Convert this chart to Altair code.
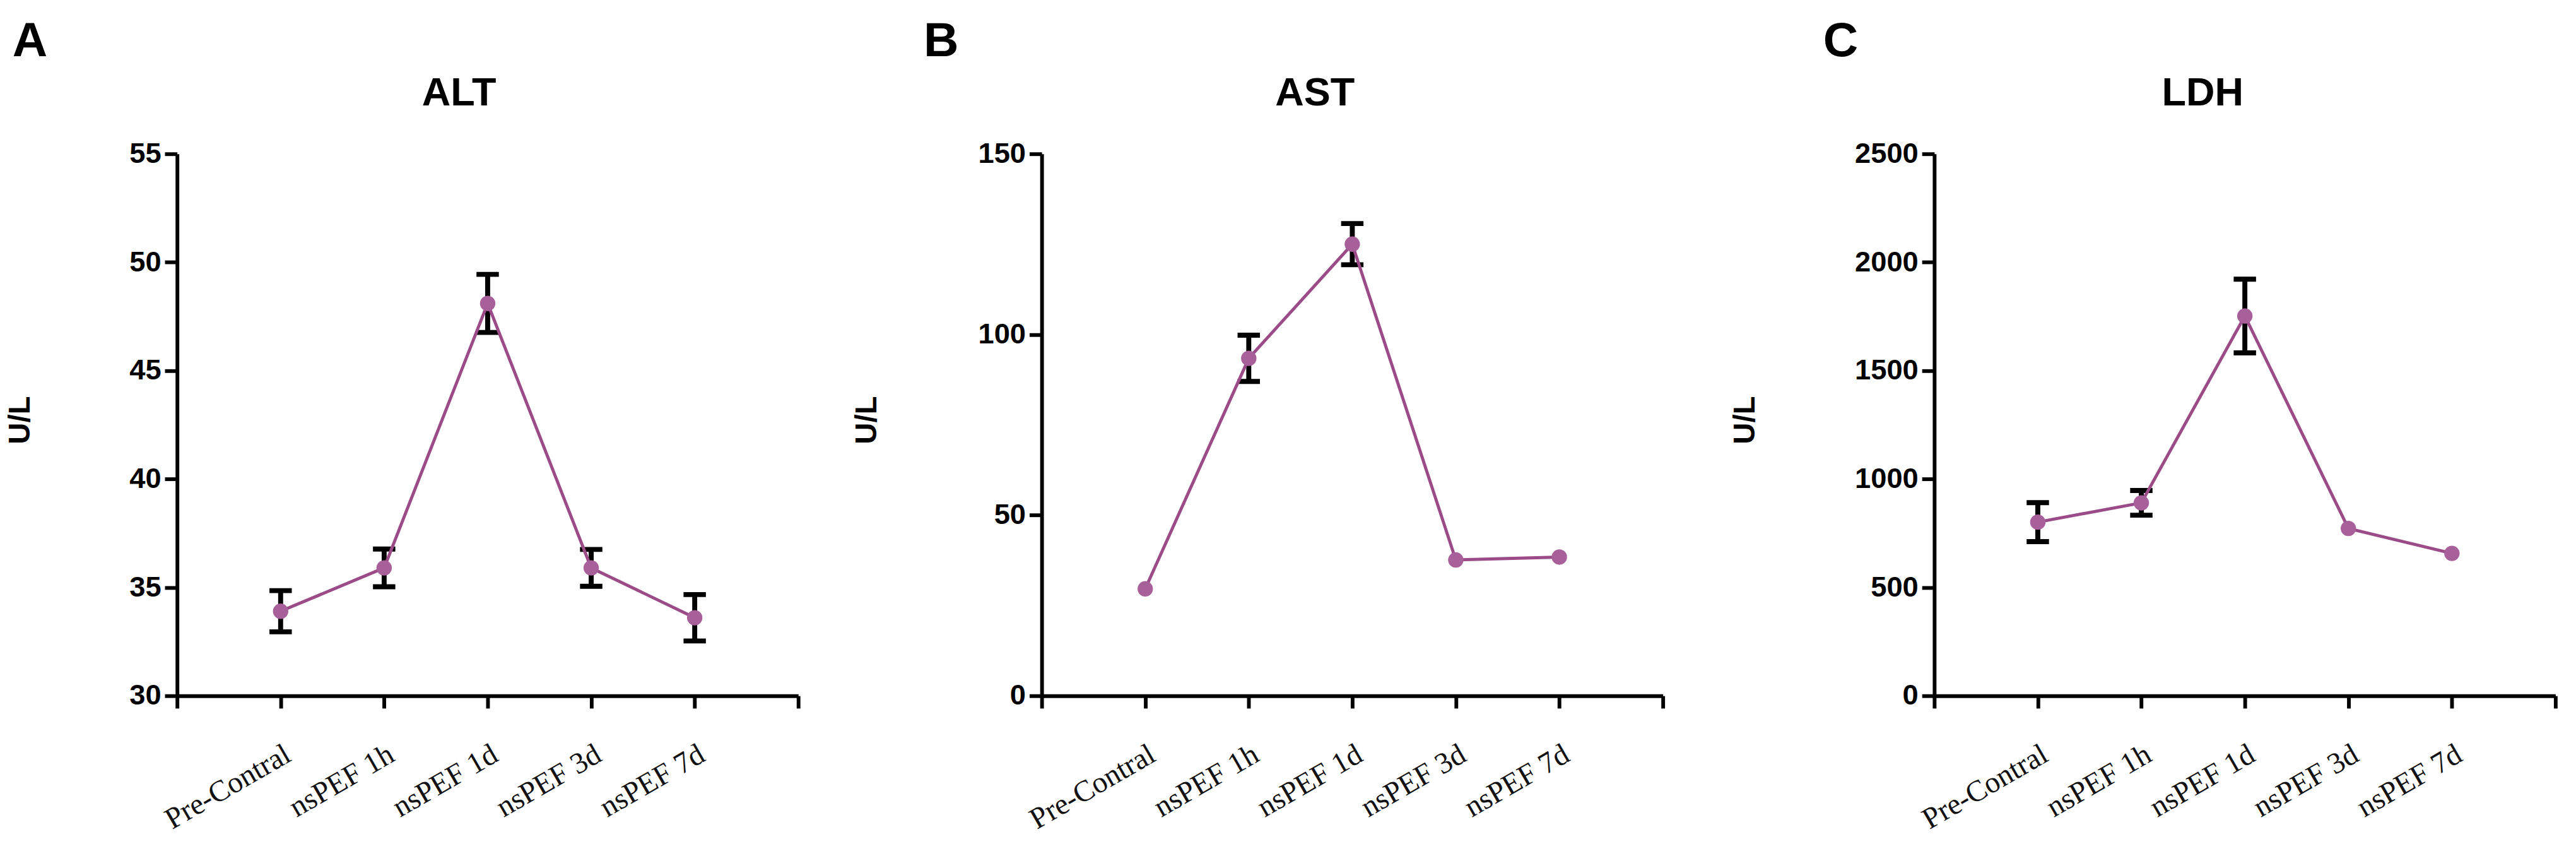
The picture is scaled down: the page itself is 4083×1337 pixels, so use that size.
import json
import altair as alt
import pandas as pd

categories = ["Pre-Contral", "nsPEF 1h", "nsPEF 1d", "nsPEF 3d", "nsPEF 7d"]
positions = [1, 2, 3, 4, 5]

alt_mean = [33.9, 35.9, 48.1, 35.9, 33.6]
alt_err = [0.95, 0.87, 1.34, 0.85, 1.07]

ast_mean = [29.6, 93.4, 125.0, 37.6, 38.4]
ast_err = [0, 6.4, 5.7, 0, 0]

ldh_mean = [801, 890, 1752, 772, 657]
ldh_err = [90, 57, 170, 0, 0]

alt_ticks = [30, 35, 40, 45, 50, 55]
ast_ticks = [0, 50, 100, 150]
ldh_ticks = [0, 500, 1000, 1500, 2000, 2500]

LINE = "#9b4b87"
DOT = "#a8609b"
W, H = 1000, 872

label_expr = (
    "datum.value >= 1 && datum.value <= 5 ? "
    + json.dumps(categories)
    + "[datum.value - 1] : ''"
)


def xchan():
    return alt.X(
        "pos:Q",
        scale=alt.Scale(domain=[0, 6], nice=False, zero=False),
        axis=alt.Axis(
            values=[0, 1, 2, 3, 4, 5, 6],
            labelExpr=label_expr,
            labelAngle=330,
            labelAlign="right",
            labelBaseline="top",
            labelFont="Liberation Serif",
            labelFontSize=48,
            labelColor="#111111",
            labelPadding=50,
            labelLimit=0,
            labelOverlap=False,
            labelFlush=False,
            tickSize=20,
            tickWidth=6,
            tickColor="black",
            domainWidth=6,
            domainColor="black",
            grid=False,
        ),
        title=None,
    )


def ychan(field, domain, ticks, title_x):
    return alt.Y(
        f"{field}:Q",
        scale=alt.Scale(domain=domain, nice=False, zero=False),
        axis=alt.Axis(
            values=ticks,
            format="d",
            labelFont="Liberation Sans",
            labelFontWeight="bold",
            labelFontSize=46,
            labelColor="black",
            labelPadding=6,
            tickSize=20,
            tickWidth=6,
            tickColor="black",
            domainWidth=6,
            domainColor="black",
            grid=False,
            titleFont="Liberation Sans",
            titleFontWeight="bold",
            titleFontSize=48,
            titleColor="black",
            titleAngle=270,
            titleAlign="center",
            titleBaseline="middle",
            titleX=title_x,
            titleY=H / 2 - 8,
        ),
        title="U/L",
    )


def panel(name, letter, means, errs, domain, ticks, title_x_center, ytitle_x, letter_x):
    df = pd.DataFrame({"pos": positions, "cat": categories, "mean": means, "err": errs})
    df["lo"] = df["mean"] - df["err"]
    df["hi"] = df["mean"] + df["err"]
    edf = df[df["err"] > 0]

    stem = alt.Chart(edf).mark_rule(color="black", strokeWidth=8).encode(
        x=xchan(), y=ychan("lo", domain, ticks, ytitle_x), y2="hi:Q"
    )
    cap_lo = alt.Chart(edf).mark_tick(
        color="black", orient="horizontal", size=36, thickness=8, opacity=1
    ).encode(x=xchan(), y=ychan("lo", domain, ticks, ytitle_x))
    cap_hi = alt.Chart(edf).mark_tick(
        color="black", orient="horizontal", size=36, thickness=8, opacity=1
    ).encode(x=xchan(), y=ychan("hi", domain, ticks, ytitle_x))
    line = alt.Chart(df).mark_line(color=LINE, strokeWidth=5).encode(
        x=xchan(), y=ychan("mean", domain, ticks, ytitle_x)
    )
    pts = alt.Chart(df).mark_circle(color=DOT, size=615, opacity=1).encode(
        x=xchan(), y=ychan("mean", domain, ticks, ytitle_x)
    )
    lab = alt.Chart(pd.DataFrame({"t": [letter]})).mark_text(
        font="Liberation Sans",
        fontWeight="bold",
        fontSize=78,
        align="left",
        baseline="alphabetic",
        color="black",
    ).encode(text="t:N", x=alt.value(letter_x), y=alt.value(-157))
    ttl = alt.Chart(pd.DataFrame({"t": [name]})).mark_text(
        font="Liberation Sans",
        fontWeight="bold",
        fontSize=64,
        align="center",
        baseline="alphabetic",
        color="black",
    ).encode(text="t:N", x=alt.value(title_x_center), y=alt.value(-78))

    return alt.layer(stem, cap_lo, cap_hi, line, pts, lab, ttl).properties(
        width=W, height=H
    )


pA = panel("ALT", "A", alt_mean, alt_err, [30, 55], alt_ticks, 454, -252, -265)
pB = panel("AST", "B", ast_mean, ast_err, [0, 150], ast_ticks, 440, -281, -190)
pC = panel("LDH", "C", ldh_mean, ldh_err, [0, 2500], ldh_ticks, 432, -304, -179)

chart = (
    alt.hconcat(pA, alt.hconcat(pB, pC, spacing=83), spacing=61)
    .properties(
        padding={"left": 0, "top": 9, "right": 0, "bottom": 0},
        background="white",
    )
    .configure_view(stroke="transparent")
)

chart.save("out.html", embed_options={"renderer": "svg", "actions": False})
